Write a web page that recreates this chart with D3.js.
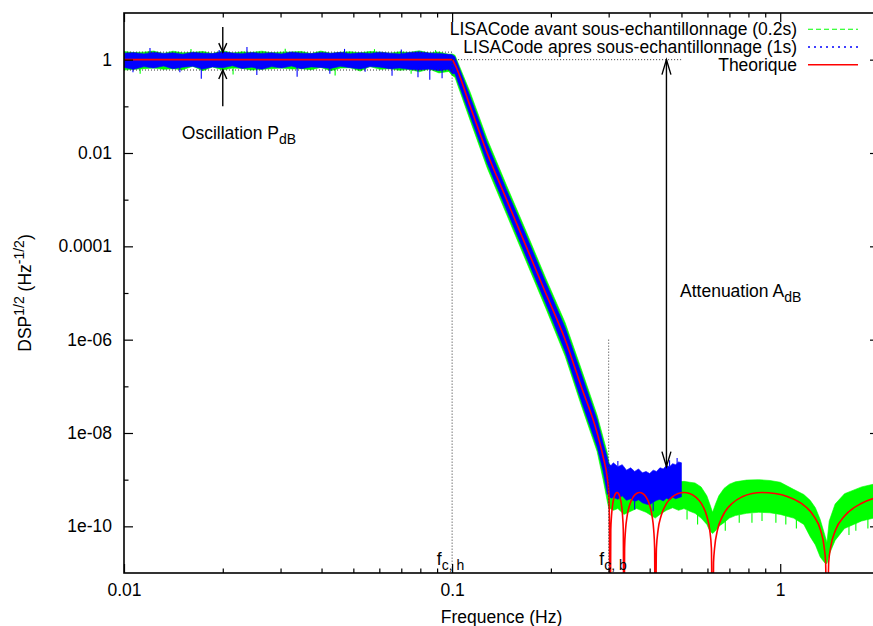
<!DOCTYPE html>
<html>
<head>
<meta charset="utf-8">
<script src="https://cdn.jsdelivr.net/npm/d3@7"></script>
<style>
  body { margin: 0; background: #fff; }
  svg text { font-family: "Liberation Sans", Arial, Helvetica, sans-serif; fill: #000; }
</style>
</head>
<body>
<svg id="chart" width="873" height="626"></svg>
<script>
// ---------------- data ----------------
// Theoretical filter response (Hz, DSP^1/2)
const theoFreq = [0.01, 0.1, 0.102, 0.1135, 0.1279, 0.1466, 0.1681, 0.1928, 0.2211, 0.2473, 0.2767, 0.2886, 0.297, 0.300, 0.3015, 0.303,
  0.3045, 0.3060, 0.3090, 0.3120, 0.3151, 0.3181, 0.3212, 0.3244, 0.3276, 0.3308, 0.3324, 0.334,
  0.3355, 0.3377, 0.3414, 0.3490, 0.3567, 0.3647, 0.3727, 0.3810, 0.3895, 0.3982, 0.4070, 0.4115, 0.4142, 0.416,
  0.4194, 0.4244, 0.4331, 0.4508, 0.4693, 0.4886, 0.5087, 0.5296, 0.5513, 0.5739, 0.5975, 0.6096, 0.6170, 0.622,
  0.6263, 0.6307, 0.6440, 0.6667, 0.7147, 0.7659, 0.8210, 0.88, 0.9638, 1.0557, 1.1566, 1.2671, 1.3261, 1.3629, 1.3754, 1.388,
  1.4051, 1.4223, 1.4753, 1.5682, 1.7717, 2.0016];
const theoVal = [1, 1, 0.785, 0.1, 1e-2, 1e-3, 1e-4, 1e-5, 1e-6, 1e-7, 1e-8, 3.1e-9, 1.1e-9, 5.5e-10, 1.6e-10, 1e-13,
  8.4e-11, 1.64e-10, 3.13e-10, 4.3e-10, 5.05e-10, 5.3e-10, 5.05e-10, 4.3e-10, 3.13e-10, 1.64e-10, 8.4e-11, 1e-13,
  3.35e-11, 8.4e-11, 1.64e-10, 3.13e-10, 4.3e-10, 5.05e-10, 5.3e-10, 5.05e-10, 4.3e-10, 3.13e-10, 1.64e-10, 8.4e-11, 3.35e-11, 1e-13,
  3.35e-11, 8.4e-11, 1.64e-10, 3.13e-10, 4.3e-10, 5.05e-10, 5.3e-10, 5.05e-10, 4.3e-10, 3.13e-10, 1.64e-10, 8.4e-11, 3.35e-11, 1e-13,
  1.68e-11, 3.35e-11, 8.4e-11, 1.64e-10, 3.13e-10, 4.3e-10, 5.05e-10, 5.3e-10, 5.05e-10, 4.3e-10, 3.13e-10, 1.64e-10, 8.4e-11, 3.35e-11, 1.68e-11, 1e-13,
  1.68e-11, 3.35e-11, 8.4e-11, 1.64e-10, 3.13e-10, 4.3e-10];

// LISACode after down-sampling (1 s): spread of the noisy spectrum (low / high envelope)
const blueFreq = [0.0100, 0.0107, 0.0115, 0.0123, 0.0132, 0.0141, 0.0151, 0.0162, 0.0174, 0.0186, 0.0200, 0.0214, 0.0229, 0.0245, 0.0263, 0.0282, 0.0302,
  0.0324, 0.0347, 0.0372, 0.0398, 0.0427, 0.0457, 0.0490, 0.0525, 0.0562, 0.0603, 0.0646, 0.0692, 0.0741, 0.0794, 0.0851, 0.0912, 0.0977, 0.1,
  0.102, 0.1135, 0.1279, 0.1466, 0.1681, 0.1928, 0.2211, 0.2473, 0.2767, 0.2886, 0.297,
  0.30, 0.305, 0.31, 0.32, 0.33, 0.34, 0.35, 0.36, 0.37, 0.38, 0.39, 0.40, 0.41, 0.42, 0.43, 0.44, 0.45, 0.46, 0.47, 0.48, 0.49, 0.50];
const blueLo = [0.68, 0.62, 0.71, 0.66, 0.73, 0.64, 0.69, 0.72, 0.63, 0.70, 0.67, 0.74, 0.65, 0.69, 0.62, 0.71, 0.66,
  0.73, 0.64, 0.70, 0.68, 0.65, 0.72, 0.67, 0.63, 0.71, 0.69, 0.64, 0.66, 0.62, 0.60, 0.63, 0.58, 0.62, 0.5,
  0.5, 0.062, 6e-3, 6e-4, 6e-5, 6e-6, 5.5e-7, 5e-8, 5e-9, 1.5e-9, 5e-10,
  4.5e-10, 4e-10, 4.2e-10, 3.8e-10, 4.5e-10, 3.6e-10, 3.9e-10, 3.4e-10, 3.7e-10, 3.2e-10, 3.0e-10, 2.9e-10, 3.3e-10, 3.6e-10, 3.8e-10, 3.5e-10, 4.0e-10, 3.7e-10, 4.2e-10, 3.9e-10, 4.1e-10, 4.3e-10];
const blueHi = [1.38, 1.42, 1.33, 1.45, 1.36, 1.40, 1.31, 1.44, 1.37, 1.35, 1.47, 1.39, 1.34, 1.43, 1.36, 1.41, 1.33,
  1.46, 1.38, 1.35, 1.42, 1.37, 1.44, 1.34, 1.40, 1.36, 1.45, 1.38, 1.33, 1.43, 1.47, 1.39, 1.36, 1.30, 1.28,
  1.15, 0.16, 1.6e-2, 1.6e-3, 1.7e-4, 1.7e-5, 1.8e-6, 1.9e-7, 1.9e-8, 6e-9, 3e-9,
  2.2e-9, 2.0e-9, 2.3e-9, 1.9e-9, 2.1e-9, 1.6e-9, 1.8e-9, 1.5e-9, 1.7e-9, 1.4e-9, 1.5e-9, 1.35e-9, 1.6e-9, 1.5e-9, 1.8e-9, 1.7e-9, 2.0e-9, 1.9e-9, 2.2e-9, 2.1e-9, 2.4e-9, 2.3e-9];

// LISACode before down-sampling (0.2 s)
const greenFreq = [0.0100, 0.0107, 0.0115, 0.0123, 0.0132, 0.0141, 0.0151, 0.0162, 0.0174, 0.0186, 0.0200, 0.0214, 0.0229, 0.0245, 0.0263, 0.0282, 0.0302,
  0.0324, 0.0347, 0.0372, 0.0398, 0.0427, 0.0457, 0.0490, 0.0525, 0.0562, 0.0603, 0.0646, 0.0692, 0.0741, 0.0794, 0.0851, 0.0912, 0.0977, 0.1,
  0.102, 0.1135, 0.1279, 0.1466, 0.1681, 0.1928, 0.2211, 0.2473, 0.2767, 0.2886, 0.297,
  0.30, 0.31, 0.32, 0.334, 0.345, 0.365, 0.39, 0.416, 0.43, 0.45, 0.47, 0.49, 0.509, 0.53, 0.55, 0.574, 0.5975, 0.61, 0.622,
  0.635, 0.65, 0.674, 0.70, 0.73, 0.79, 0.86, 0.93, 1.0, 1.098, 1.18, 1.234, 1.28, 1.324, 1.372, 1.388,
  1.41, 1.47, 1.57, 1.77, 2.0];
const greenLo = [0.60, 0.62, 0.64, 0.66, 0.62, 0.64, 0.61, 0.72, 0.58, 0.70, 0.60, 0.66, 0.65, 0.60, 0.62, 0.64, 0.66,
  0.63, 0.64, 0.61, 0.68, 0.58, 0.66, 0.67, 0.57, 0.71, 0.62, 0.64, 0.59, 0.62, 0.55, 0.63, 0.52, 0.56, 0.46,
  0.42, 0.05, 4.8e-3, 4.8e-4, 4.8e-5, 4.8e-6, 4.4e-7, 4e-8, 4e-9, 1e-9, 3.5e-10,
  2.5e-10, 2.2e-10, 2.4e-10, 1.8e-10, 2.0e-10, 2.4e-10, 2.0e-10, 1.5e-10, 1.8e-10, 2.2e-10, 2.5e-10, 2.2e-10, 2.4e-10, 2.1e-10, 1.9e-10, 1.5e-10, 1.1e-10, 8e-11, 7e-11,
  8e-11, 1.0e-10, 1.2e-10, 1.5e-10, 1.7e-10, 1.9e-10, 2.0e-10, 1.95e-10, 1.8e-10, 1.5e-10, 1.1e-10, 6e-11, 4e-11, 2.2e-11, 1.6e-11, 1.6e-11,
  2.5e-11, 5e-11, 9e-11, 1.3e-10, 1.6e-10];
const greenHi = [1.50, 1.42, 1.45, 1.53, 1.36, 1.52, 1.40, 1.44, 1.50, 1.35, 1.56, 1.39, 1.47, 1.43, 1.52, 1.41, 1.45,
  1.46, 1.50, 1.35, 1.53, 1.37, 1.44, 1.48, 1.40, 1.50, 1.45, 1.38, 1.47, 1.43, 1.55, 1.39, 1.46, 1.30, 1.33,
  1.25, 0.2, 2e-2, 2e-3, 2.1e-4, 2.1e-5, 2.3e-6, 2.4e-7, 2.4e-8, 8e-9, 3.8e-9,
  2.5e-9, 1.0e-9, 1.0e-9, 6e-10, 8e-10, 9e-10, 8e-10, 4e-10, 6e-10, 8e-10, 8.5e-10, 9e-10, 9.2e-10, 8.8e-10, 8.5e-10, 7e-10, 4.5e-10, 3e-10, 2e-10,
  3e-10, 4.5e-10, 6.5e-10, 8e-10, 9e-10, 9.8e-10, 1.0e-9, 9.6e-10, 8.8e-10, 6.2e-10, 4.8e-10, 3.6e-10, 2.5e-10, 1.4e-10, 6e-11, 4.5e-11,
  1.3e-10, 3e-10, 5e-10, 7e-10, 8.5e-10];

// isolated excursions of the noisy spectra: [frequency, from, to]
const blueSpikes = [[0.01065, 1, 0.54], [0.0120, 1, 1.78], [0.0148, 1, 0.54], [0.0172, 1, 0.39], [0.0195, 1, 1.62],
  [0.0237, 1, 1.87], [0.0254, 1, 0.47], [0.0337, 1, 0.43], [0.0424, 1, 0.5], [0.0470, 1, 1.7], [0.0543, 1, 0.55],
  [0.0656, 1, 0.45], [0.0700, 1, 1.65], [0.0787, 1, 0.42], [0.0855, 1, 0.37], [0.0932, 1, 0.40],
  [0.32, 1.9e-9, 2.5e-9], [0.36, 3.4e-10, 2.3e-10], [0.41, 3.3e-10, 2.1e-10], [0.46, 1.9e-9, 2.6e-9], [0.485, 2.2e-9, 2.9e-9]];
const greenSpikes = [[0.0112, 1, 0.5], [0.0160, 1, 1.7], [0.0215, 1, 0.48], [0.031, 1, 1.72], [0.044, 1, 0.46],
  [0.058, 1, 1.68], [0.075, 1, 0.5], [0.089, 1, 1.6],
  [0.52, 2.2e-10, 1.4e-10], [0.56, 1.8e-10, 1.1e-10], [0.68, 1.3e-10, 8e-11], [0.75, 1.8e-10, 1.2e-10], [0.82, 1.9e-10, 1.2e-10],
  [0.88, 2e-10, 1.3e-10], [0.97, 1.9e-10, 1.2e-10], [1.04, 1.7e-10, 1.1e-10], [1.12, 1.4e-10, 9e-11],
  [1.62, 1.1e-10, 6.5e-11], [1.70, 1.3e-10, 8e-11], [1.85, 1.5e-10, 9e-11], [1.95, 1.6e-10, 1e-10]];

// axes ticks
const xMajor = [0.01, 0.1, 1];
const xLabels = ["0.01", "0.1", "1"];
const xMinor = [0.02, 0.03, 0.04, 0.05, 0.06, 0.07, 0.08, 0.09, 0.2, 0.3, 0.4, 0.5, 0.6, 0.7, 0.8, 0.9];
const yMajor = [1e-10, 1e-8, 1e-6, 1e-4, 1e-2, 1];
const yLabels = ["1e-10", "1e-08", "1e-06", "0.0001", "0.01", "1"];
const yMinor = [1e-9, 1e-7, 1e-5, 1e-3, 1e-1];

const seriesNames = ["LISACode avant sous-echantillonnage (0.2s)", "LISACode apres sous-echantillonnage (1s)", "Theorique"];
const seriesColors = ["#00ff00", "#0000ff", "#ff0000"];

// ---------------- layout ----------------
const X0 = 124, X1 = 879, Y0 = 13, Y1 = 573;
const FS = 17.5, FS_SMALL = 14;
const svg = d3.select("#chart");
const x = d3.scaleLog().domain([0.01, 2]).range([X0, X1]);
const y = d3.scaleLog().domain([1e-11, 10]).range([Y1, Y0]);

svg.append("defs").append("clipPath").attr("id", "plotclip")
  .append("rect").attr("x", X0).attr("y", Y0).attr("width", X1 - X0).attr("height", Y1 - Y0);

const plot = svg.append("g").attr("clip-path", "url(#plotclip)");

function band(freq, lo, hi, color) {
  const area = d3.area()
    .x(i => x(freq[i])).y0(i => y(lo[i])).y1(i => y(hi[i]))
    .curve(d3.curveLinear);
  plot.append("path").attr("d", area(d3.range(freq.length))).attr("fill", color).attr("stroke", color).attr("stroke-width", 0.6);
}
function spikes(list, color) {
  plot.append("g").selectAll("line").data(list).join("line")
    .attr("x1", d => x(d[0])).attr("x2", d => x(d[0]))
    .attr("y1", d => y(d[1])).attr("y2", d => y(d[2]))
    .attr("stroke", color).attr("stroke-width", 1.1);
}

band(greenFreq, greenLo, greenHi, seriesColors[0]);
spikes(greenSpikes, seriesColors[0]);
band(blueFreq, blueLo, blueHi, seriesColors[1]);
spikes(blueSpikes, seriesColors[1]);

const theoLine = d3.line()
  .x(i => x(theoFreq[i])).y(i => y(theoVal[i]))
  .curve(d3.curveMonotoneX);
plot.append("path").attr("d", theoLine(d3.range(theoFreq.length)))
  .attr("fill", "none").attr("stroke", seriesColors[2]).attr("stroke-width", 1.6);

// dotted guide lines
const guides = [
  [[0.01, 1.45], [0.1, 1.45]],
  [[0.01, 0.6], [0.1, 0.6]],
  [[0.1, 1], [0.5, 1]],
  [[0.1, 1], [0.1, 1e-11]],
  [[0.3, 1e-6], [0.3, 1e-11]]
];
plot.selectAll("line.guide").data(guides).join("line")
  .attr("class", "guide")
  .attr("x1", d => x(d[0][0])).attr("y1", d => y(d[0][1]))
  .attr("x2", d => x(d[1][0])).attr("y2", d => y(d[1][1]))
  .attr("stroke", "#333").attr("stroke-width", 1).attr("stroke-dasharray", "1 2");

// arrows
function arrow(f1, v1, f2, v2, len, half, both) {
  const ax = x(f1), ay = y(v1), bx = x(f2), by = y(v2);
  const g = svg.append("g").attr("stroke", "#000").attr("stroke-width", 1.4).attr("fill", "none");
  g.append("line").attr("x1", ax).attr("y1", ay).attr("x2", bx).attr("y2", by);
  const head = (tx, ty, fx, fy) => {
    const dx = tx - fx, dy = ty - fy, L = Math.hypot(dx, dy);
    const ux = dx / L, uy = dy / L;
    const px = -uy, py = ux;
    g.append("path").attr("d",
      `M${tx - ux * len + px * half},${ty - uy * len + py * half}L${tx},${ty}L${tx - ux * len - px * half},${ty - uy * len - py * half}`);
  };
  head(bx, by, ax, ay);
  if (both) head(ax, ay, bx, by);
}
arrow(0.02, 5, 0.02, 1.45, 9, 4, false);
arrow(0.02, 0.1, 0.02, 0.6, 9, 4, false);
arrow(0.45, 1, 0.45, 1.9e-9, 15, 4.5, true);

// rich text with sub/superscripts
function rich(sel, parts) {
  let shift = 0;
  parts.forEach(p => {
    const target = p.sub ? 5 : p.sup ? -7 : 0;
    sel.append("tspan").attr("dy", target - shift)
      .attr("font-size", (p.sub || p.sup) ? FS_SMALL : FS).text(p.t);
    shift = target;
  });
}
const labels = [
  { f: 0.015, v: 0.02, parts: [{ t: "Oscillation P" }, { t: "dB", sub: true }] },
  { f: 0.495, v: 8.2e-6, parts: [{ t: "Attenuation A" }, { t: "dB", sub: true }] },
  { f: 0.0898, v: 1.5e-11, parts: [{ t: "f" }, { t: "c, h", sub: true }] },
  { f: 0.281, v: 1.5e-11, parts: [{ t: "f" }, { t: "c, b", sub: true }] }
];
labels.forEach(l => {
  const t = svg.append("text").attr("x", x(l.f)).attr("y", y(l.v)).attr("font-size", FS);
  rich(t, l.parts);
});

// axes
function styleAxis(g) {
  g.attr("font-family", null).attr("font-size", null);
  g.select(".domain").remove();
  g.selectAll(".tick line").attr("stroke", "#000").attr("stroke-width", 1.2);
  g.selectAll(".tick text").attr("font-size", FS).attr("fill", "#000");
}
svg.append("g").attr("transform", `translate(0,${Y1})`)
  .call(d3.axisBottom(x).tickValues(xMajor).tickFormat((d, i) => xLabels[i]).tickSizeInner(-9).tickSizeOuter(0).tickPadding(11))
  .call(styleAxis);
svg.append("g").attr("transform", `translate(0,${Y1})`)
  .call(d3.axisBottom(x).tickValues(xMinor).tickFormat("").tickSizeInner(-4.5).tickSizeOuter(0))
  .call(styleAxis);
svg.append("g").attr("transform", `translate(0,${Y0})`)
  .call(d3.axisTop(x).tickValues(xMajor).tickFormat("").tickSizeInner(-9).tickSizeOuter(0))
  .call(styleAxis);
svg.append("g").attr("transform", `translate(0,${Y0})`)
  .call(d3.axisTop(x).tickValues(xMinor).tickFormat("").tickSizeInner(-4.5).tickSizeOuter(0))
  .call(styleAxis);
svg.append("g").attr("transform", `translate(${X0},0)`)
  .call(d3.axisLeft(y).tickValues(yMajor).tickFormat((d, i) => yLabels[i]).tickSizeInner(-9).tickSizeOuter(0).tickPadding(12))
  .call(styleAxis);
svg.append("g").attr("transform", `translate(${X0},0)`)
  .call(d3.axisLeft(y).tickValues(yMinor).tickFormat("").tickSizeInner(-4.5).tickSizeOuter(0))
  .call(styleAxis);
svg.append("g").attr("transform", `translate(${X1},0)`)
  .call(d3.axisRight(y).tickValues(yMajor).tickFormat("").tickSizeInner(-9).tickSizeOuter(0))
  .call(styleAxis);
svg.append("g").attr("transform", `translate(${X1},0)`)
  .call(d3.axisRight(y).tickValues(yMinor).tickFormat("").tickSizeInner(-4.5).tickSizeOuter(0))
  .call(styleAxis);

svg.append("rect").attr("x", X0).attr("y", Y0).attr("width", X1 - X0).attr("height", Y1 - Y0)
  .attr("fill", "none").attr("stroke", "#000").attr("stroke-width", 1.6);

// axis titles
svg.append("text").attr("x", (X0 + X1) / 2).attr("y", 622.5).attr("text-anchor", "middle")
  .attr("font-size", FS).text("Frequence (Hz)");
const yt = svg.append("text").attr("transform", `translate(31,${(Y0 + Y1) / 2}) rotate(-90)`)
  .attr("text-anchor", "middle").attr("font-size", FS);
rich(yt, [{ t: "DSP" }, { t: "1/2", sup: true }, { t: " (Hz" }, { t: "-1/2", sup: true }, { t: ")" }]);

// legend
const legend = svg.append("g");
const dashes = ["5 3", "2 4", null];
const widths = [1.1, 1.3, 1.6];
seriesNames.forEach((name, i) => {
  const yy = 35 + i * 17.8;
  legend.append("text").attr("x", 797).attr("y", yy).attr("text-anchor", "end").attr("font-size", FS).text(name);
  legend.append("line").attr("x1", 808).attr("x2", 858).attr("y1", yy - 5.8).attr("y2", yy - 5.8)
    .attr("stroke", seriesColors[i]).attr("stroke-width", widths[i])
    .attr("stroke-dasharray", dashes[i]);
});
</script>
</body>
</html>
